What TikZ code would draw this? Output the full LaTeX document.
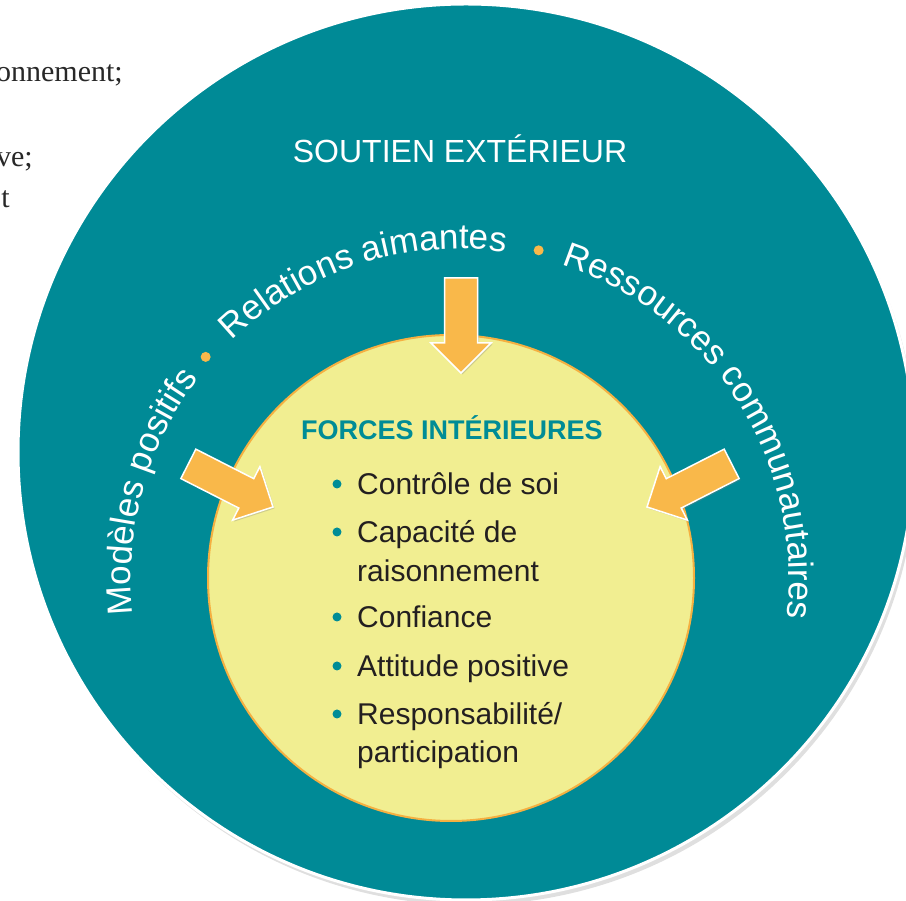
\documentclass[tikz,border=0pt]{standalone}
\usepackage{fontspec}
\setmainfont{Liberation Serif}
\newfontfamily\figfont{Liberation Sans}
\usetikzlibrary{decorations.text,shadows}

\definecolor{ringteal}{RGB}{0,138,150}
\definecolor{titleteal}{RGB}{0,140,150}
\definecolor{coreyellow}{RGB}{241,238,145}
\definecolor{coreedge}{RGB}{245,176,65}
\definecolor{arroworange}{RGB}{249,184,74}
\definecolor{listgray}{RGB}{35,31,32}
\definecolor{pagegray}{RGB}{40,40,40}

\newcommand{\arcfont}{\figfont\fontsize{35}{42}\selectfont}

\begin{document}
\begin{tikzpicture}[x=1pt,y=1pt,
    inarrow/.style={fill=arroworange, draw=white, line width=1.5pt,
      drop shadow={shadow xshift=1.5pt, shadow yshift=-1.5pt, opacity=.3}},
    arclabel/.style={decorate, decoration={text along path, text align=center, text color=white}},
    item/.style={anchor=base west, inner sep=0pt, text=listgray, font=\figfont\fontsize{30}{36}\selectfont},
    fragment/.style={anchor=base east, inner sep=0pt, text=pagegray, font=\fontsize{30}{36}\selectfont}]

    \clip (0,0) rectangle (906,901);

    % Page text cut off beside the figure
    \node[fragment] (frag1) at (123,819) {onnement;};
    \node[fragment] (frag2) at (33,734) {ve;};
    \node[fragment] (frag3) at (10,693) {t};

    % Outer disc: outside support
    \path[fill=ringteal, draw=white, line width=3pt,
      drop shadow={shadow xshift=3pt, shadow yshift=-5pt, opacity=.25}] (466,449) circle (448);

    % Inner disc: inner strengths
    \path[fill=coreyellow, draw=coreedge, line width=2pt] (451,323) circle (243);

    % Arrows pointing in
    \foreach \tx/\ty/\ang in {461/528/-90, 273/394/-27, 647/394/207}
        \draw[inarrow, shift={(\tx,\ty)}, rotate=\ang]
            (0,0) -- (-30,30) -- (-30,16.5) -- (-95,16.5) -- (-95,-16.5)
            -- (-30,-16.5) -- (-30,-30) -- cycle;

    % Labels along the arc
    \coordinate (hub) at (460,323);
    \path[arclabel, decoration={text={|\arcfont|Modèles positifs}}]
        ([shift={(hub)}]204.5:329) arc[start angle=204.5, end angle=124.5, radius=329];
    \path[arclabel, decoration={text={|\arcfont|Relations aimantes}}]
        ([shift={(hub)}]152:329) arc[start angle=152, end angle=64, radius=329];
    \path[arclabel, decoration={text={|\arcfont|Ressources communautaires}}]
        ([shift={(hub)}]85:329) arc[start angle=85, end angle=-20, radius=329];

    % Dots between the labels
    \fill[arroworange] ([shift={(hub)}]139:337) circle (5);
    \fill[arroworange] ([shift={(hub)}]76.5:337) circle (5);

    % Titles
    \node[anchor=base, inner sep=0pt, text=white, font=\figfont\fontsize{32}{38}\selectfont]
        (outer) at (460,738) {SOUTIEN EXTÉRIEUR};
    \node[anchor=base, inner sep=0pt, text=titleteal, font=\figfont\bfseries\fontsize{27}{32}\selectfont]
        (inner) at (452,461) {FORCES INTÉRIEURES};

    % List of inner strengths
    \node[item] (ctrl) at (357,406) {Contrôle de soi};
    \node[item] (capa) at (357,358) {Capacité de};
    \node[item] (rais) at (357,319) {raisonnement};
    \node[item] (conf) at (357,273) {Confiance};
    \node[item] (atti) at (357,224) {Attitude positive};
    \node[item] (resp) at (357,176) {Responsabilité/};
    \node[item] (part) at (357,138) {participation};

    % Bullets
    \foreach \n in {ctrl,capa,conf,atti,resp}
        \fill[titleteal] (\n.base west) ++(-20,11) circle (4.5);
\end{tikzpicture}
\end{document}
